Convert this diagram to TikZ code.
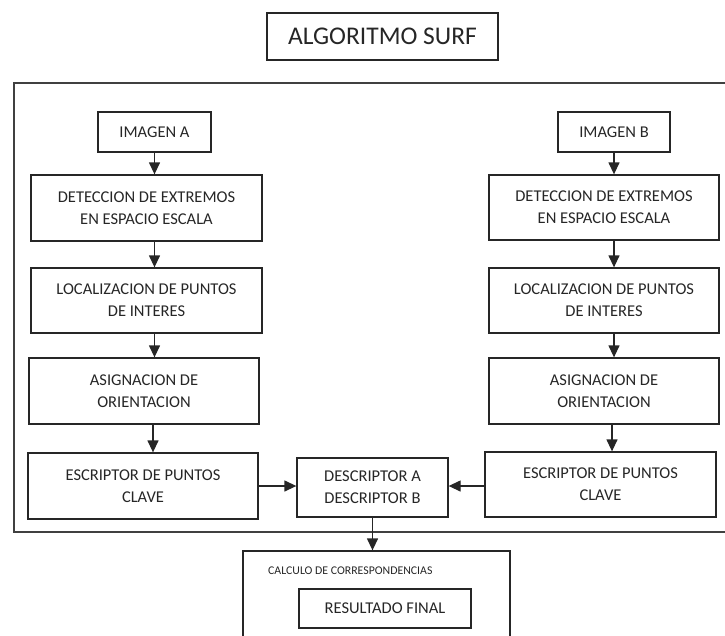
\documentclass[tikz,border=0pt]{standalone}
\usepackage{fontspec}
\setmainfont{Carlito}
\usetikzlibrary{arrows.meta,calc}
\definecolor{boxc}{HTML}{262626}
\definecolor{framec}{HTML}{404040}
\definecolor{txtc}{HTML}{262626}
\tikzset{
  box/.style={draw=boxc, line width=1.3pt, align=center, inner sep=0pt, text=txtc,
    font=\fontsize{16.5}{22}\selectfont},
  arr/.style={line width=1.3pt, draw=boxc, -{Triangle[width=11pt,length=12pt]}},
  frame/.style={draw=framec, line width=2pt}
}
\begin{document}
\begin{tikzpicture}[x=1pt,y=-1pt]
\path[use as bounding box, clip] (0,0) rectangle (725,635);
% title
\node[box, minimum width=231pt, minimum height=47pt, font=\fontsize{25.5}{28}\selectfont] (title) at (382.5,36.5) {ALGORITMO SURF};
% outer frame (open at right, cut by the page)
\coordinate (fTR) at (730,83);
\coordinate (fTL) at (14,83);
\coordinate (fBL) at (14,532);
\coordinate (fBR) at (730,532);
\draw[frame] (fTR) -- (fTL) -- (fBL) -- (fBR);
% left column
\node[box, minimum width=113pt, minimum height=40pt] (imgA) at (154.5,132) {IMAGEN A};
\node[box, minimum width=231pt, minimum height=66pt] (detA) at (146.5,208) {DETECCION DE EXTREMOS\\EN ESPACIO ESCALA};
\node[box, minimum width=231pt, minimum height=65pt] (locA) at (146.5,300.5) {LOCALIZACION DE PUNTOS\\DE INTERES};
\node[box, minimum width=230pt, minimum height=66pt] (asgA) at (144,391) {ASIGNACION DE\\ORIENTACION};
\node[box, minimum width=230pt, minimum height=66pt] (escA) at (143,486) {ESCRIPTOR DE PUNTOS\\CLAVE};
% right column
\node[box, minimum width=112pt, minimum height=40pt] (imgB) at (614,132) {IMAGEN B};
\node[box, minimum width=230pt, minimum height=65pt] (detB) at (604,207.5) {DETECCION DE EXTREMOS\\EN ESPACIO ESCALA};
\node[box, minimum width=230pt, minimum height=65pt] (locB) at (604,300.5) {LOCALIZACION DE PUNTOS\\DE INTERES};
\node[box, minimum width=230pt, minimum height=66pt] (asgB) at (604,391) {ASIGNACION DE\\ORIENTACION};
\node[box, minimum width=231pt, minimum height=65pt] (escB) at (600.5,484.5) {ESCRIPTOR DE PUNTOS\\CLAVE};
% middle
\node[box, minimum width=151pt, minimum height=59pt] (desc) at (372.5,487.5) {DESCRIPTOR A\\DESCRIPTOR B};
\node[box, minimum width=267pt, minimum height=100pt] (calc) at (376.5,601) {};
\node[anchor=west, inner sep=0pt, text=txtc, font=\fontsize{11.8}{13}\selectfont] (calcT) at (268,571) {CALCULO DE CORRESPONDENCIAS};
\node[box, minimum width=172pt, minimum height=39pt, font=\fontsize{16.5}{18}\selectfont] (res) at (385,608.5) {RESULTADO FINAL};
% arrows left
\draw[arr] (imgA.south) -- (imgA.south |- detA.north);
\draw[arr] (imgA.south |- detA.south) -- (imgA.south |- locA.north);
\draw[arr] (imgA.south |- locA.south) -- (imgA.south |- asgA.north);
\draw[arr] ($(imgA.south |- asgA.south)+(-1.5,0)$) -- ($(imgA.south |- escA.north)+(-1.5,0)$);
% arrows right
\draw[arr] (imgB.south) -- (imgB.south |- detB.north);
\draw[arr] (imgB.south |- detB.south) -- (imgB.south |- locB.north);
\draw[arr] (imgB.south |- locB.south) -- (imgB.south |- asgB.north);
\draw[arr] ($(imgB.south |- asgB.south)+(-2,0)$) -- ($(imgB.south |- escB.north)+(-2,0)$);
% to descriptor
\draw[arr] (escA.east) -- (escA.east -| desc.west);
\draw[arr] (escA.east -| escB.west) -- (escA.east -| desc.east);
\draw[arr] (desc.south) -- (desc.south |- calc.north);
\end{tikzpicture}
\end{document}
